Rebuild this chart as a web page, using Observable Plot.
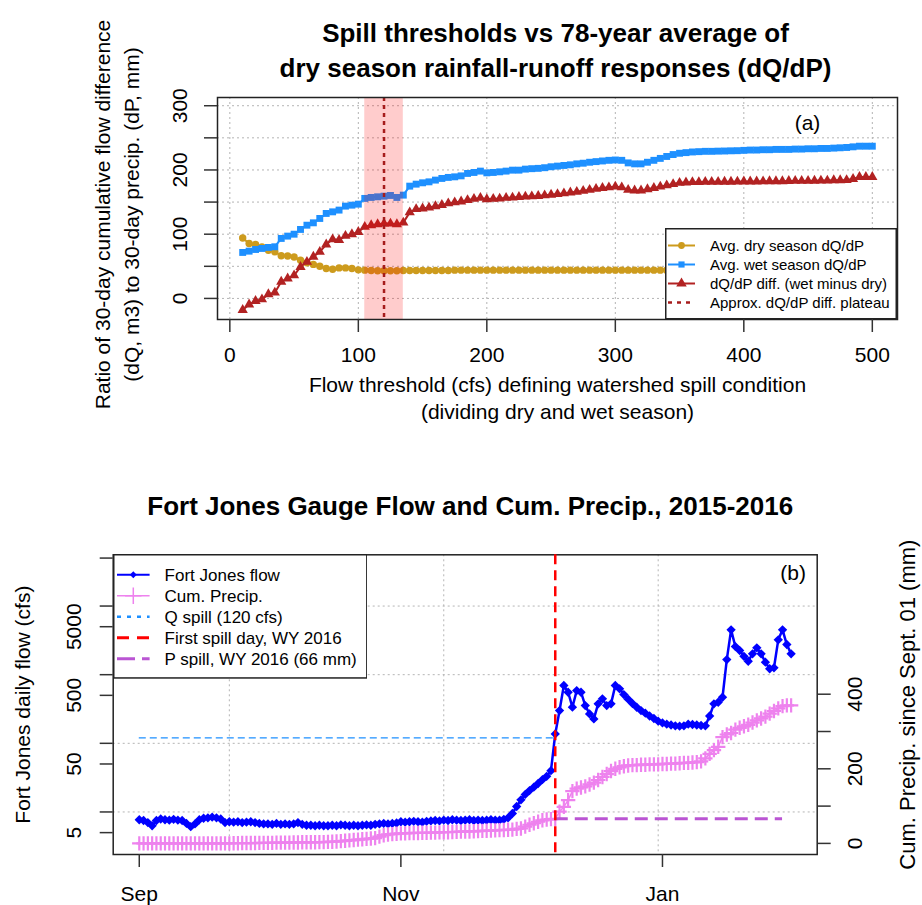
<!DOCTYPE html>
<html>
<head>
<meta charset="utf-8">
<script src="https://cdn.jsdelivr.net/npm/d3@7"></script>
<script src="https://cdn.jsdelivr.net/npm/@observablehq/plot@0.6"></script>
<style>
  body { margin: 0; background: #fff; }
  #chart { position: relative; width: 922px; height: 905px; overflow: hidden; background: #fff; }
</style>
</head>
<body>
<div id="chart"></div>
<script>
// ---------- Panel (a): dQ/dP responses by spill threshold ----------
const thresholds = [
  10, 15, 20, 25, 30, 35, 40, 45, 50, 55,
  60, 65, 70, 75, 80, 85, 90, 95, 100, 105,
  110, 115, 120, 125, 130, 135, 140, 145, 150, 155,
  160, 165, 170, 175, 180, 185, 190, 195, 200, 205,
  210, 215, 220, 225, 230, 235, 240, 245, 250, 255,
  260, 265, 270, 275, 280, 285, 290, 295, 300, 305,
  310, 315, 320, 325, 330, 335, 340, 345, 350, 355,
  360, 365, 370, 375, 380, 385, 390, 395, 400, 405,
  410, 415, 420, 425, 430, 435, 440, 445, 450, 455,
  460, 465, 470, 475, 480, 485, 490, 495, 500
];
const dryDQdP = [
  94, 85.5, 84, 80, 75, 72.5, 66.5, 66, 64.5, 59.5,
  55.5, 53, 50, 46.5, 45.5, 47.5, 47.5, 46.5, 44.5, 44,
  43.5, 43, 43, 43, 43, 43.5, 43.5, 43.5, 43.5, 43.5,
  43.5, 43.5, 43.5, 44, 44, 44, 44, 44, 44, 44,
  44, 44, 44, 44, 44, 44, 44, 44, 44, 44,
  44, 44, 44, 44, 44, 44, 44, 44, 44, 44,
  44, 44, 44, 44, 44, 44, 44, 44, 44, 44,
  44, 44, 44, 44, 44, 44, 44, 44, 44, 44,
  44, 44, 44, 44, 44, 44, 44, 44, 44, 44,
  44, 44, 44, 44, 44, 44, 44, 44, 44
];
const wetDQdP = [
  71.6, 73.6, 76.2, 77.8, 79.4, 80.4, 93.4, 97, 100, 107.4,
  114, 117.7, 124.5, 132.3, 134.8, 137.5, 143.7, 145.2, 146.8, 155.7,
  157.2, 158.2, 159.2, 160.3, 157.2, 160.8, 174.8, 177.9, 180, 181.5,
  184.2, 186.8, 188.4, 189.3, 190.8, 194.6, 196.1, 198.2, 195.5, 196.1,
  197.1, 198.2, 199.7, 199.7, 201.3, 202, 202.5, 203.5, 205, 206,
  207, 208, 209.5, 210.5, 212, 213, 214, 215, 215.5, 215,
  211, 209.5, 209.5, 212, 215, 218, 221, 224, 226, 227,
  228, 228.5, 229, 229, 229.3, 229.5, 229.8, 230, 230.5, 231,
  231, 231.5, 231.5, 232, 232, 232, 232.5, 232.5, 233, 233,
  233.5, 233.5, 234, 234.5, 235, 236, 237, 237, 237
];
const diffDQdP = [
  -18, -9.5, -4, -1.5, 6.5, 9, 26, 31, 36, 49,
  57, 65, 72.5, 84, 92, 91, 97.5, 100, 103.5, 111.5,
  114, 115.5, 116.5, 116.5, 115.5, 118, 134, 139, 140, 141.5,
  143.5, 145.5, 148, 149.5, 151, 153, 155, 156.5, 154.5, 155,
  155.5, 156.5, 157, 158, 158.5, 159, 159.5, 160.5, 161.5, 162.5,
  163.5, 165, 166, 167.5, 169, 170.5, 172, 173, 174, 173,
  169, 168, 168, 170, 172, 174, 176, 178, 180, 180.5,
  181, 181, 181.5, 181.5, 181.5, 181.6, 181.6, 181.8, 182, 182,
  182, 182.3, 182.5, 182.5, 182.5, 182.8, 183, 183, 183, 183.3,
  183.5, 183.5, 184, 184, 184.2, 186, 189, 189, 189
];
const plateauRange = [105, 135];   // cfs band around the diff plateau
const plateauCenter = 120;         // cfs
const ratioLimits = [-20, 300];
const ratioTicks = [0, 50, 100, 150, 200, 250, 300];
const ratioTickLabels = [0, 100, 200, 300];
const thresholdTicks = [0, 100, 200, 300, 400, 500];

// ---------- Panel (b): Fort Jones flow and cumulative precipitation ----------
const firstDay = "2015-09-01";
const flowCfs = [
  7.7, 7.5, 7.0, 6.3, 7.5, 7.9, 7.7, 7.6, 7.8, 7.6,
  7.5, 6.8, 6.1, 6.7, 7.7, 8.1, 8.2, 8.4, 8.2, 7.9,
  7.0, 7.2, 7.1, 7.2, 7.0, 7.1, 7.2, 7.0, 6.8, 6.7,
  6.7, 6.6, 6.8, 6.6, 6.7, 6.6, 6.7, 7.0, 6.6, 6.4,
  6.4, 6.3, 6.4, 6.3, 6.3, 6.4, 6.3, 6.5, 6.4, 6.3,
  6.4, 6.3, 6.4, 6.5, 6.4, 6.6, 6.7, 6.8, 6.7, 6.8,
  6.9, 7.2, 7.1, 7.2, 7.3, 7.2, 7.1, 7.3, 7.4, 7.5,
  7.4, 7.6, 7.5, 7.7, 7.6, 7.5, 7.6, 7.7, 7.5, 7.6,
  7.5, 7.6, 7.7, 7.6, 7.6, 7.8, 8.2, 9.5, 12, 15,
  18, 20.5, 23, 26, 29.5, 33, 40, 137, 300, 695,
  555, 336, 587, 555, 355, 268, 227, 376, 445, 355,
  376, 695, 622, 513, 440, 380, 335, 300, 275, 250,
  230, 210, 198, 190, 185, 180, 178, 180, 190, 188,
  185, 182, 180, 250, 376, 397, 469, 1660, 4500, 2570,
  2250, 1850, 1570, 2010, 2460, 2010, 1520, 1220, 1260, 3220,
  4500, 2750, 2010
];
const cumPrecipMm = [
  0, 0, 0, 0, 0, 0, 0, 0, 0, 0,
  0, 0, 0, 0, 0, 0, 0, 0, 0, 0,
  0, 0, 0.5, 0.5, 1, 1, 1, 1, 1.5, 1.5,
  1.5, 1.5, 2, 2, 2, 2, 2.5, 2.5, 3, 3,
  3, 3, 3.5, 3.5, 4, 4.5, 5, 6, 7, 8,
  9, 10, 11, 12, 13, 14, 18, 22, 24, 25,
  26, 27, 27, 27.5, 28, 28, 28.5, 28.5, 29, 29,
  29.5, 30, 30, 30.5, 31, 31.5, 32, 32, 32.5, 33,
  33.5, 34, 34.5, 35, 35.5, 36, 36.5, 37, 39, 40,
  45, 50, 54, 58, 62, 64, 65, 66, 85, 98,
  116, 140, 147, 150, 153, 158, 163, 170, 178, 186,
  194, 200, 204, 207, 209, 210, 210, 211, 211, 212,
  212, 212, 213, 213, 214, 214, 215, 216, 216, 217,
  218, 220, 228, 240, 250, 259, 285, 292, 296, 305,
  310, 314, 318, 324, 330, 335, 340, 348, 355, 362,
  368, 370, 370
];
const qSpillCfs = 120;
const pSpillMm = 66;
const firstSpillDay = "2015-12-07";
const pSpillEnd = "2016-01-29";
const monthTicks = ["2015-09-01", "2015-11-01", "2016-01-01"];
const monthLabels = ["Sep", "Nov", "Jan"];
const dayGrid = ["2015-09-22", "2015-11-11", "2015-12-31"];
const flowTicks = [5, 10, 50, 100, 500, 1000, 5000, 10000, 50000];
const flowTickLabels = [5, 50, 500, 5000];
const flowGrid = [10, 100, 1000, 10000];
const flowLimits = [2.4, 55800];
const precipLimits = [0, 744];
const precipTicks = [0, 100, 200, 300, 400];
const precipTickLabels = [0, 200, 400];

// ---------- shared styling ----------
const FONT = '"Liberation Sans", Arial, Helvetica, sans-serif';
const W = 922;
const C = {
  dry: "#cd9b1d", wet: "#1e90ff", diff: "#b22222", plateau: "#a61c1c",
  flow: "#0000ff", precip: "#ee82ee", qspill: "#1e90ff", spill: "#ff0000", pspill: "#ba55d3"
};
const gridStyle = {stroke: "#b4b4b4", strokeOpacity: 1, strokeWidth: 1, strokeDasharray: "2,3"};
const axisStyle = {stroke: "#333", strokeWidth: 1.5, fill: "none", tickSize: 13};
const TICK_FS = 21, LAB_FS = 21, TITLE_FS = 26;
const pad4 = ([a, b]) => [a - (b - a) * 0.04, b + (b - a) * 0.04];
const vertical = {rotate: -90, textAnchor: "middle", lineAnchor: "middle"};

const chart = document.getElementById("chart");
function place(node, top) {
  node.style.position = "absolute";
  node.style.left = "0px";
  node.style.top = top + "px";
  chart.appendChild(node);
}

// ---------- Panel (a) ----------
const rowsA = thresholds.map((t, i) => ({t, dry: dryDQdP[i], wet: wetDQdP[i], diff: diffDQdP[i]}));

const panelA = Plot.plot({
  width: W, height: 440,
  marginTop: 97, marginRight: 25, marginBottom: 121, marginLeft: 217,
  style: {fontFamily: FONT, background: "transparent", overflow: "visible"},
  x: {domain: pad4(d3.extent(thresholds))},
  y: {domain: pad4(ratioLimits)},
  marks: [
    Plot.gridX(thresholdTicks, gridStyle),
    Plot.gridY(ratioTicks, gridStyle),
    Plot.line(rowsA, {x: "t", y: "dry", stroke: C.dry, strokeWidth: 2}),
    Plot.dot(rowsA, {x: "t", y: "dry", symbol: "circle", r: 3.7, fill: C.dry}),
    Plot.line(rowsA, {x: "t", y: "wet", stroke: C.wet, strokeWidth: 2}),
    Plot.dot(rowsA, {x: "t", y: "wet", symbol: "square", r: 3.9, fill: C.wet}),
    Plot.line(rowsA, {x: "t", y: "diff", stroke: C.diff, strokeWidth: 2}),
    Plot.dot(rowsA, {x: "t", y: "diff", symbol: "triangle", r: 3.8, fill: C.diff}),
    Plot.rect([plateauRange], {x1: d => d[0], x2: d => d[1], fill: "#ff0000", fillOpacity: 0.2}),
    Plot.ruleX([plateauCenter], {stroke: C.plateau, strokeWidth: 2.5, strokeDasharray: "4,4"}),
    Plot.frame({stroke: "#222", strokeWidth: 1.5}),
    Plot.axisX(thresholdTicks, axisStyle),
    Plot.axisY(ratioTicks, axisStyle),
    Plot.text(thresholdTicks, {x: d => d, text: d => String(d), frameAnchor: "bottom", dy: 36,
      fontSize: TICK_FS, lineAnchor: "middle"}),
    Plot.text(ratioTickLabels, {y: d => d, text: d => String(d), frameAnchor: "left", dx: -37,
      ...vertical, fontSize: TICK_FS}),
    Plot.text(["Spill thresholds vs 78-year average of\ndry season rainfall-runoff responses (dQ/dP)"],
      {text: d => d, frameAnchor: "top", dx: -2, dy: -49.5, lineAnchor: "middle", lineHeight: 1.35,
       fontSize: TITLE_FS, fontWeight: "bold"}),
    Plot.text(["Flow threshold (cfs) defining watershed spill condition\n(dividing dry and wet season)"],
      {text: d => d, frameAnchor: "bottom", dy: 77.5, lineAnchor: "middle", lineHeight: 1.3, fontSize: LAB_FS}),
    Plot.text(["Ratio of 30-day cumulative flow difference\n(dQ, m3) to 30-day precip. (dP, mm)"],
      {text: d => d, frameAnchor: "left", dx: -102, dy: 6, ...vertical, lineHeight: 1.35, fontSize: LAB_FS}),
    Plot.text(["(a)"], {text: d => d, frameAnchor: "top-right", dx: -90, dy: 26, lineAnchor: "middle",
      textAnchor: "middle", fontSize: LAB_FS})
  ]
});
place(panelA, 0);

// ---------- Panel (b) ----------
const day0 = new Date(firstDay);
const rowsB = flowCfs.map((v, i) => ({date: new Date(+day0 + i * 864e5), flow: v, precip: cumPrecipMm[i]}));
const dateExtent = d3.extent(rowsB, d => d.date);
const xDomainB = pad4(dateExtent.map(Number)).map(t => new Date(t));
const spillDate = new Date(firstSpillDay);
const commonB = {
  width: W, height: 465,
  marginTop: 114.3, marginRight: 105.3, marginBottom: 51, marginLeft: 112.7,
  style: {fontFamily: FONT, background: "transparent", overflow: "visible"}
};

const panelB = Plot.plot({
  ...commonB,
  x: {type: "utc", domain: xDomainB},
  y: {type: "log", domain: flowLimits},
  marks: [
    Plot.gridX(dayGrid.map(s => new Date(s)), gridStyle),
    Plot.gridY(flowGrid, gridStyle),
    Plot.line(rowsB, {x: "date", y: "flow", stroke: C.flow, strokeWidth: 2.5}),
    Plot.dot(rowsB, {x: "date", y: "flow", symbol: "diamond2", r: 4.2, fill: C.flow}),
    Plot.ruleY([{y: qSpillCfs, x1: day0, x2: spillDate}], {y: "y", x1: "x1", x2: "x2",
      stroke: C.qspill, strokeWidth: 1.3, strokeDasharray: "7,4"}),
    Plot.frame({stroke: "#222", strokeWidth: 1.5}),
    Plot.axisX(monthTicks.map(s => new Date(s)), axisStyle),
    Plot.axisY(flowTicks, axisStyle),
    Plot.text(monthTicks, {x: s => new Date(s), text: (s, i) => monthLabels[i], frameAnchor: "bottom", dy: 40,
      fontSize: TICK_FS, lineAnchor: "middle"}),
    Plot.text(flowTickLabels, {y: d => d, text: d => String(d), frameAnchor: "left", dx: -39,
      ...vertical, fontSize: TICK_FS}),
    Plot.text(["Fort Jones Gauge Flow and Cum. Precip., 2015-2016"],
      {text: d => d, frameAnchor: "top", dx: 5, dy: -48.3, lineAnchor: "middle", fontSize: TITLE_FS, fontWeight: "bold"}),
    Plot.text(["Fort Jones daily flow (cfs)"],
      {text: d => d, frameAnchor: "left", dx: -90, ...vertical, fontSize: LAB_FS})
  ]
});
place(panelB, 440);

// cumulative precipitation on its own right-hand scale
const panelBPrecip = Plot.plot({
  ...commonB,
  x: {type: "utc", domain: xDomainB, axis: null},
  y: {domain: pad4(precipLimits), axis: null},
  marks: [
    Plot.line(rowsB, {x: "date", y: "precip", stroke: C.precip, strokeWidth: 1.5}),
    Plot.dot(rowsB, {x: "date", y: "precip", symbol: "plus", r: 4.7, stroke: C.precip, strokeWidth: 2.2}),
    Plot.ruleY([{y: pSpillMm, x1: spillDate, x2: new Date(pSpillEnd)}], {y: "y", x1: "x1", x2: "x2",
      stroke: C.pspill, strokeWidth: 3, strokeDasharray: "13,7"}),
    Plot.ruleX([spillDate], {stroke: C.spill, strokeWidth: 2.5, strokeDasharray: "10,6"}),
    Plot.axisY(precipTicks, {...axisStyle, anchor: "right"}),
    Plot.text(precipTickLabels, {y: d => d, text: d => String(d), frameAnchor: "right", dx: 38,
      ...vertical, fontSize: TICK_FS}),
    Plot.text(["Cum. Precip. since Sept. 01 (mm)"],
      {text: d => d, frameAnchor: "right", dx: 91, ...vertical, fontSize: 22}),
    Plot.text(["(b)"], {text: d => d, frameAnchor: "top-right", dx: -24, dy: 18, lineAnchor: "middle",
      textAnchor: "middle", fontSize: LAB_FS})
  ]
});
place(panelBPrecip, 440);

// ---------- legends ----------
function legend(box, rows) {
  const svg = d3.select(chart).append("svg")
    .style("position", "absolute").style("left", box.left + "px").style("top", box.top + "px")
    .attr("width", box.width).attr("height", box.height)
    .style("font-family", FONT);
  svg.append("rect").attr("x", 0.75).attr("y", 0.75)
    .attr("width", box.width - 1.5).attr("height", box.height - 1.5)
    .attr("fill", "#fff").attr("stroke", "#222").attr("stroke-width", 1.5);
  rows.forEach((r, i) => {
    const y = box.rowY0 + i * box.rowStep;
    svg.append("line").attr("x1", box.lineX1).attr("x2", box.lineX2).attr("y1", y).attr("y2", y)
      .attr("stroke", r.color).attr("stroke-width", r.width).attr("stroke-dasharray", r.dash || null);
    if (r.symbol) {
      const p = svg.append("path")
        .attr("transform", `translate(${(box.lineX1 + box.lineX2) / 2},${y})`)
        .attr("d", d3.symbol(r.symbol, r.size)());
      if (r.hollow) p.attr("fill", "none").attr("stroke", r.color).attr("stroke-width", 1.5);
      else p.attr("fill", r.color);
    }
    svg.append("text").attr("x", box.textX).attr("y", y).attr("dy", "0.35em")
      .attr("font-size", box.fontSize).attr("fill", "#000").text(r.label);
  });
}

legend({left: 665, top: 227.5, width: 232, height: 91.5, rowY0: 17.5, rowStep: 19,
        lineX1: 3, lineX2: 30, textX: 45, fontSize: 15}, [
  {label: "Avg. dry season dQ/dP", color: C.dry, width: 2, symbol: d3.symbolCircle, size: 36},
  {label: "Avg. wet season dQ/dP", color: C.wet, width: 2, symbol: d3.symbolSquare, size: 38},
  {label: "dQ/dP diff. (wet minus dry)", color: C.diff, width: 2, symbol: d3.symbolTriangle, size: 48},
  {label: "Approx. dQ/dP diff. plateau", color: C.plateau, width: 2.5, dash: "4,5"}
]);

legend({left: 112.7, top: 554.3, width: 254.6, height: 124.7, rowY0: 20.7, rowStep: 21,
        lineX1: 4, lineX2: 36.6, textX: 51.6, fontSize: 17}, [
  {label: "Fort Jones flow", color: C.flow, width: 2, symbol: d3.symbolDiamond2, size: 30},
  {label: "Cum. Precip.", color: C.precip, width: 1.5, symbol: d3.symbolPlus, size: 90, hollow: true},
  {label: "Q spill (120 cfs)", color: C.qspill, width: 2.5, dash: "4,6"},
  {label: "First spill day, WY 2016", color: C.spill, width: 3, dash: "12,8"},
  {label: "P spill, WY 2016 (66 mm)", color: C.pspill, width: 3, dash: "18,7"}
]);
</script>
</body>
</html>
